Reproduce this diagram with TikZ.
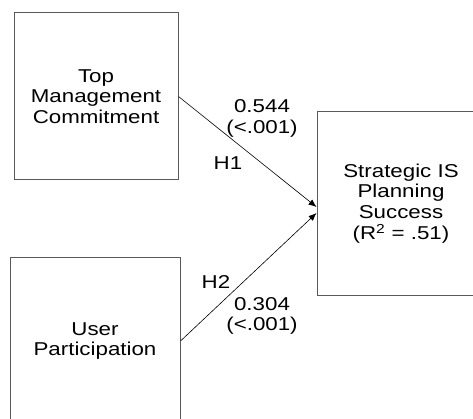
\documentclass[tikz,border=0pt]{standalone}
\usepackage{fontspec}
\setmainfont{Liberation Sans}[FakeStretch=1.2]
\usetikzlibrary{arrows.meta}

\begin{document}
\begin{tikzpicture}[x=1pt,y=-1pt]
\tikzstyle{lien}=[-{Latex[length=8pt,width=6.5pt]},line width=0.6pt]
\tikzset{construit/.style={draw=black!65,line width=1pt,align=center,
  font=\fontsize{18.6}{20.8}\selectfont},
coeff/.style={align=center,font=\fontsize{18.6}{20.8}\selectfont}}
\useasboundingbox (0,0) rectangle (473,419);
\clip (0,0) rectangle (473,419);

\node[construit,minimum width=164pt,minimum height=167pt] (TMC) at (96,96.5) {Top\\Management\\Commitment};
\node[construit,minimum width=170pt,minimum height=166pt] (UP) at (95,341) {User\\Participation};
\node[construit,minimum width=168pt,minimum height=183pt] (SISP) at (401,203.5) {Strategic IS\\Planning\\Success\\(R\textsuperscript{2} = .51)};

\draw[lien] (TMC.east) -- ([yshift=-3.5pt]SISP.west);
\draw[lien] (UP.east) -- ([yshift=-9.5pt]SISP.west);

\node[coeff] (b1) at (262,118.5) {0.544\\(<.001)};
\node[coeff] (h1) at (228,163) {H1};
\node[coeff] (h2) at (216,282) {H2};
\node[coeff] (b2) at (262,316) {0.304\\(<.001)};

\end{tikzpicture}
\end{document}
